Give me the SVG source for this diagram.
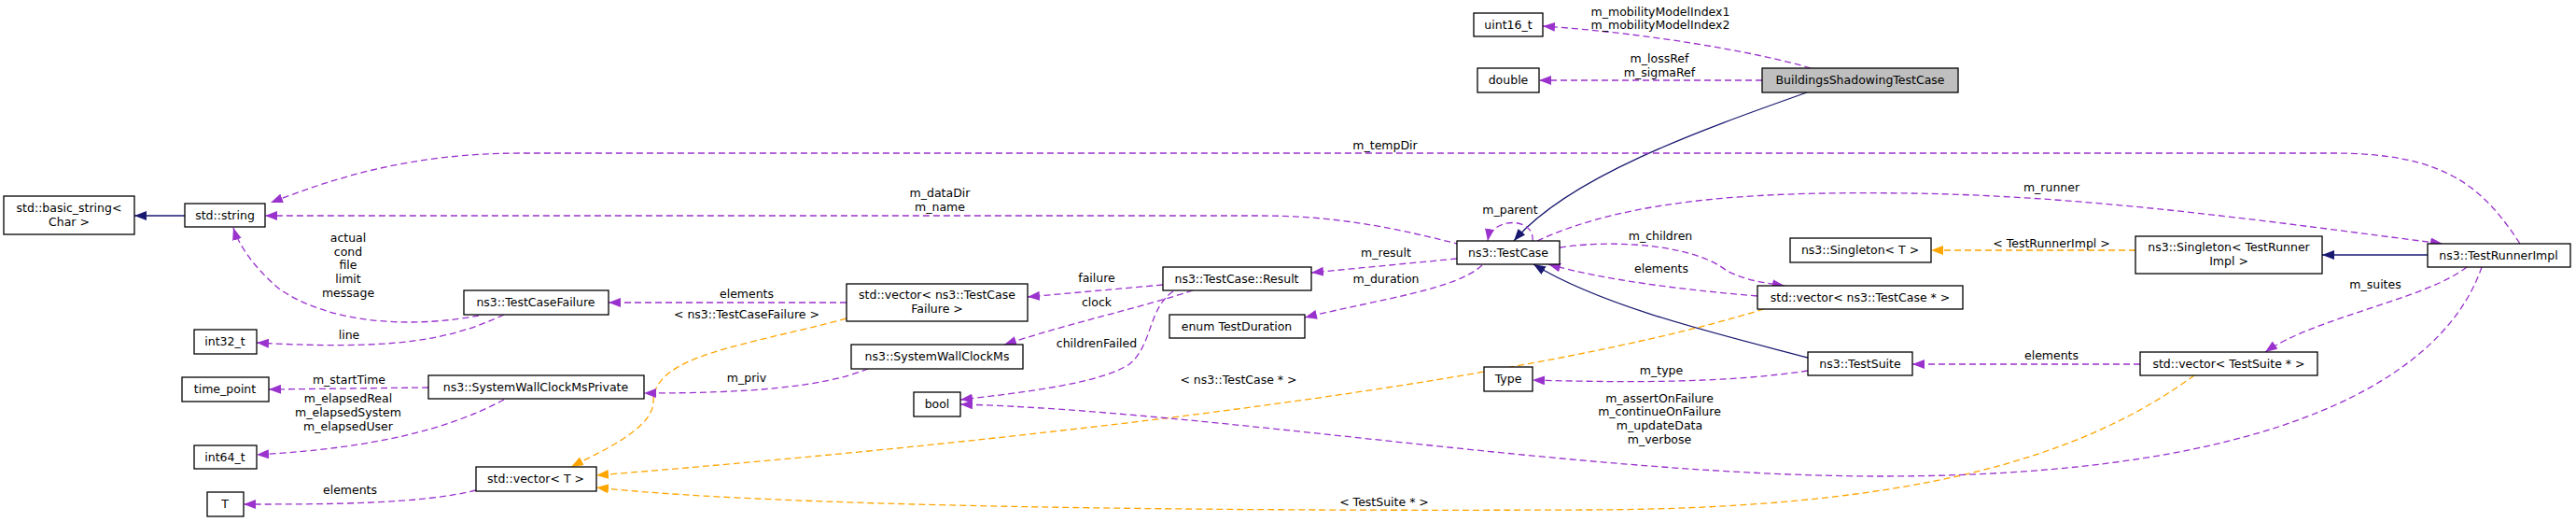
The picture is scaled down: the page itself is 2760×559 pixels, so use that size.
<svg xmlns="http://www.w3.org/2000/svg" width="2760" height="559" viewBox="0 0 2760 559">
<style>
text{font-family:"DejaVu Sans",sans-serif;font-size:12.5px;fill:#000;text-anchor:middle}
.n rect{fill:#fff;stroke:#000;stroke-width:1.3}
.n.g rect{fill:#bfbfbf}
.p{fill:none;stroke:#9a32cd;stroke-width:1.3;stroke-dasharray:7,4;marker-end:url(#ap)}
.o{fill:none;stroke:#ffa500;stroke-width:1.3;stroke-dasharray:7,4;marker-end:url(#ao)}
.b{fill:none;stroke:#191970;stroke-width:1.3;marker-end:url(#ab)}
</style>
<defs>
<marker id="ap" markerUnits="userSpaceOnUse" markerWidth="14" markerHeight="10" refX="13" refY="5" orient="auto"><path d="M0,0L13,5L0,10z" fill="#9a32cd"/></marker>
<marker id="ao" markerUnits="userSpaceOnUse" markerWidth="14" markerHeight="10" refX="13" refY="5" orient="auto"><path d="M0,0L13,5L0,10z" fill="#ffa500"/></marker>
<marker id="ab" markerUnits="userSpaceOnUse" markerWidth="14" markerHeight="10" refX="13" refY="5" orient="auto"><path d="M0,0L13,5L0,10z" fill="#191970"/></marker>
</defs>
<g id="connectors">
<path class="p" d="M1940,73 C1880,55 1760,35 1653,28"/>
<path class="p" d="M1888,86 L1649,86"/>
<path class="b" d="M1936,99 C1820,140 1680,190 1622,258"/>
<path class="p" d="M2700,261 C2660,200 2620,164 2500,164 L560,164 C440,164 360,190 290,217"/>
<path class="p" d="M1565,262 C1480,240 1420,231 1350,231 L284,231"/>
<path class="p" d="M513,338 C450,350 360,350 300,310 C270,285 255,260 250,244"/>
<path class="p" d="M540,337 C480,365 420,375 275,367"/>
<path class="p" d="M907,324 L652,324"/>
<path class="p" d="M1246,305 L1101,318"/>
<path class="p" d="M1278,311 C1220,330 1150,345 1076,369"/>
<path class="p" d="M1257,312 C1230,330 1235,370 1210,390 C1180,410 1100,420 1029,428"/>
<path class="p" d="M1561,277 L1405,292"/>
<path class="p" d="M1588,284 C1560,310 1480,320 1398,340"/>
<path class="p" d="M1642,258 C1645,232 1598,232 1594,258"/>
<path class="b" d="M1937,383 C1850,360 1720,330 1643,283"/>
<path class="p" d="M1671,265 C1740,255 1820,265 1850,290 C1870,300 1890,303 1912,306"/>
<path class="p" d="M1883,317 C1800,310 1720,300 1659,283"/>
<path class="o" d="M1890,331 C1600,420 1000,480 639,509"/>
<path class="o" d="M907,341 C800,370 700,380 700,430 C700,460 640,485 612,500"/>
<path class="o" d="M2351,402 C2230,490 2050,545 1700,546 C1200,548 800,540 639,522"/>
<path class="p" d="M2659,286 C2620,400 2450,510 2016,510 C1700,510 1300,440 1029,433"/>
<path class="p" d="M2643,286 C2600,320 2480,340 2427,377"/>
<path class="p" d="M1937,397 C1850,410 1750,410 1642,407"/>
<path class="p" d="M2293,390 L2049,390"/>
<path class="o" d="M2288,268 L2069,268"/>
<path class="b" d="M2601,273 L2488,273"/>
<path class="p" d="M1647,258 C1750,210 1900,205 2047,207 C2250,210 2450,240 2617,261"/>
<path class="b" d="M198,231 L144,231"/>
<path class="p" d="M459,415 L288,417"/>
<path class="p" d="M540,428 C480,460 400,480 275,487"/>
<path class="p" d="M930,395 C880,415 800,421 690,421"/>
<path class="p" d="M510,525 C450,540 350,540 261,540"/>
</g>
<g id="labels">
<text x="1779" y="17">m_mobilityModelIndex1</text>
<text x="1779" y="31">m_mobilityModelIndex2</text>
<text x="1778" y="67">m_lossRef</text>
<text x="1778" y="82">m_sigmaRef</text>
<text x="1484" y="160">m_tempDir</text>
<text x="1007" y="211">m_dataDir</text>
<text x="1007" y="226">m_name</text>
<text x="373" y="259">actual</text>
<text x="373" y="274">cond</text>
<text x="373" y="288">file</text>
<text x="373" y="303">limit</text>
<text x="373" y="318">message</text>
<text x="374" y="363">line</text>
<text x="800" y="319">elements</text>
<text x="800" y="341">&lt; ns3::TestCaseFailure &gt;</text>
<text x="374" y="411">m_startTime</text>
<text x="373" y="431">m_elapsedReal</text>
<text x="373" y="446">m_elapsedSystem</text>
<text x="373" y="461">m_elapsedUser</text>
<text x="800" y="409">m_priv</text>
<text x="375" y="529">elements</text>
<text x="1618" y="229">m_parent</text>
<text x="1485" y="275">m_result</text>
<text x="1485" y="303">m_duration</text>
<text x="1175" y="302">failure</text>
<text x="1175" y="328">clock</text>
<text x="1175" y="372">childrenFailed</text>
<text x="1779" y="257">m_children</text>
<text x="1780" y="292">elements</text>
<text x="1327" y="411">&lt; ns3::TestCase * &gt;</text>
<text x="1780" y="401">m_type</text>
<text x="1778" y="431">m_assertOnFailure</text>
<text x="1778" y="445">m_continueOnFailure</text>
<text x="1778" y="460">m_updateData</text>
<text x="1778" y="475">m_verbose</text>
<text x="1483" y="542">&lt; TestSuite * &gt;</text>
<text x="2198" y="205">m_runner</text>
<text x="2198" y="265">&lt; TestRunnerImpl &gt;</text>
<text x="2545" y="309">m_suites</text>
<text x="2198" y="385">elements</text>
</g>
<g id="n_uint16" class="n"><rect x="1579" y="14" width="74" height="25"/><text x="1616" y="31">uint16_t</text></g>
<g id="n_double" class="n"><rect x="1583" y="73" width="66" height="26"/><text x="1616" y="90">double</text></g>
<g id="n_bstc" class="n g"><rect x="1888" y="73" width="210" height="26"/><text x="1993" y="90">BuildingsShadowingTestCase</text></g>
<g id="n_basic_string" class="n"><rect x="4" y="210" width="140" height="41"/><text x="74" y="227">std::basic_string&lt;</text><text x="74" y="242">Char &gt;</text></g>
<g id="n_string" class="n"><rect x="198" y="218" width="86" height="25"/><text x="241" y="235">std::string</text></g>
<g id="n_tcf" class="n"><rect x="497" y="311" width="155" height="26"/><text x="574" y="328">ns3::TestCaseFailure</text></g>
<g id="n_int32" class="n"><rect x="208" y="353" width="67" height="26"/><text x="241" y="370">int32_t</text></g>
<g id="n_time_point" class="n"><rect x="195" y="404" width="93" height="26"/><text x="241" y="421">time_point</text></g>
<g id="n_swcmp" class="n"><rect x="459" y="402" width="231" height="25"/><text x="574" y="419">ns3::SystemWallClockMsPrivate</text></g>
<g id="n_int64" class="n"><rect x="208" y="477" width="67" height="25"/><text x="241" y="494">int64_t</text></g>
<g id="n_vector_t" class="n"><rect x="510" y="500" width="129" height="26"/><text x="574" y="517">std::vector&lt; T &gt;</text></g>
<g id="n_T" class="n"><rect x="222" y="527" width="39" height="26"/><text x="241" y="544">T</text></g>
<g id="n_vector_tcf" class="n"><rect x="907" y="304" width="194" height="40"/><text x="1004" y="320">std::vector&lt; ns3::TestCase</text><text x="1004" y="335">Failure &gt;</text></g>
<g id="n_swcm" class="n"><rect x="912" y="369" width="184" height="26"/><text x="1004" y="386">ns3::SystemWallClockMs</text></g>
<g id="n_result" class="n"><rect x="1246" y="286" width="159" height="25"/><text x="1325" y="303">ns3::TestCase::Result</text></g>
<g id="n_duration" class="n"><rect x="1253" y="337" width="145" height="25"/><text x="1325" y="354">enum TestDuration</text></g>
<g id="n_bool" class="n"><rect x="979" y="420" width="50" height="26"/><text x="1004" y="437">bool</text></g>
<g id="n_testcase" class="n"><rect x="1561" y="258" width="110" height="25"/><text x="1616" y="275">ns3::TestCase</text></g>
<g id="n_type" class="n"><rect x="1590" y="393" width="52" height="26"/><text x="1616" y="410">Type</text></g>
<g id="n_singleton_t" class="n"><rect x="1918" y="255" width="151" height="26"/><text x="1993" y="272">ns3::Singleton&lt; T &gt;</text></g>
<g id="n_vector_tc" class="n"><rect x="1883" y="306" width="220" height="25"/><text x="1993" y="323">std::vector&lt; ns3::TestCase * &gt;</text></g>
<g id="n_testsuite" class="n"><rect x="1937" y="377" width="112" height="25"/><text x="1993" y="394">ns3::TestSuite</text></g>
<g id="n_singleton_tri" class="n"><rect x="2288" y="253" width="200" height="40"/><text x="2388" y="269">ns3::Singleton&lt; TestRunner</text><text x="2388" y="284">Impl &gt;</text></g>
<g id="n_vector_ts" class="n"><rect x="2293" y="377" width="190" height="25"/><text x="2388" y="394">std::vector&lt; TestSuite * &gt;</text></g>
<g id="n_tri" class="n"><rect x="2601" y="261" width="153" height="25"/><text x="2677" y="278">ns3::TestRunnerImpl</text></g>
</svg>
